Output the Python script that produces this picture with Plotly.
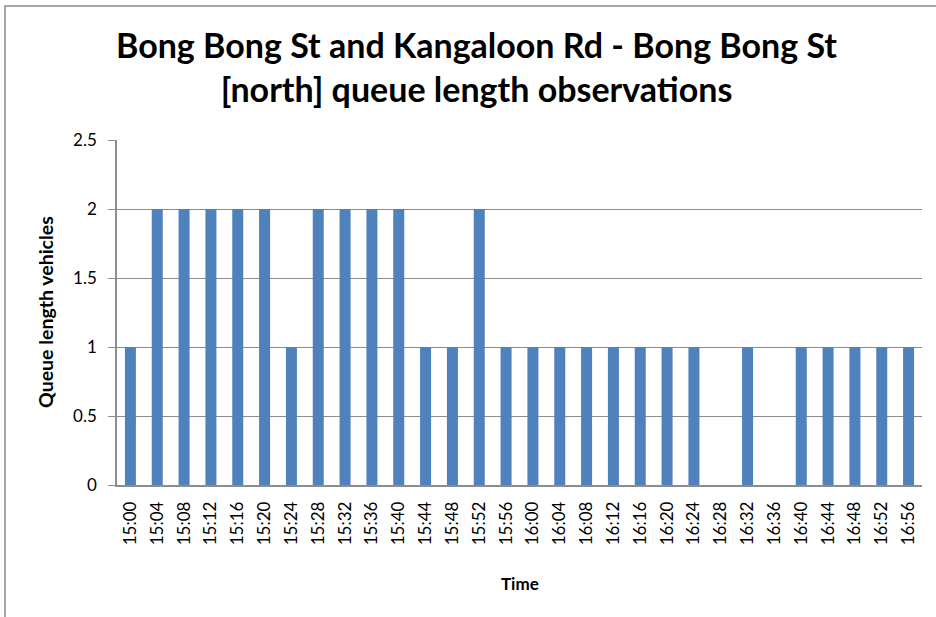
import plotly.graph_objects as go

times = ["15:00","15:04","15:08","15:12","15:16","15:20","15:24","15:28","15:32","15:36",
         "15:40","15:44","15:48","15:52","15:56","16:00","16:04","16:08","16:12","16:16",
         "16:20","16:24","16:28","16:32","16:36","16:40","16:44","16:48","16:52","16:56"]
queue = [1,2,2,2,2,2,1,2,2,2,
         2,1,1,2,1,1,1,1,1,1,
         1,1,0,1,0,1,1,1,1,1]
y_ticks = [0, 0.5, 1, 1.5, 2, 2.5]
y_tick_labels = ["0", "0.5", "1", "1.5", "2", "2.5"]

FONT = "Lato, 'Open Sans', sans-serif"
W, H = 936, 617
L, R, T, B = 117, 14, 140, 132
PW, PH = W - L - R, H - T - B

def px(x):
    return (x - L) / PW

def py(y):
    return (H - B - y) / PH

fig = go.Figure(go.Bar(x=times, y=queue, marker=dict(color="#4F81BD", line=dict(width=0))))

fig.update_layout(
    width=W, height=H,
    margin=dict(l=L, r=R, t=T, b=B, autoexpand=False),
    paper_bgcolor="white", plot_bgcolor="white",
    bargap=0.59,
    showlegend=False,
    font=dict(family=FONT, color="black"),
    annotations=[
        dict(text="<b>Bong Bong St and Kangaloon Rd - Bong Bong St<br>[north] queue length observations</b>",
             xref="paper", yref="paper", x=px(476), y=py(66), xanchor="center", yanchor="middle",
             showarrow=False, font=dict(size=34, family=FONT, color="black")),
        dict(text="<b>Queue length vehicles</b>", textangle=-90,
             xref="paper", yref="paper", x=px(45), y=py(312), xanchor="center", yanchor="middle",
             showarrow=False, font=dict(size=19.5, family=FONT, color="black")),
        dict(text="<b>Time</b>",
             xref="paper", yref="paper", x=px(520), y=py(583), xanchor="center", yanchor="middle",
             showarrow=False, font=dict(size=17, family=FONT, color="black")),
    ],
    shapes=[dict(type="rect", xref="paper", yref="paper",
                 x0=px(5), x1=px(W + 20), y0=py(H + 20), y1=py(6),
                 line=dict(color="#8C8C8C", width=1.5), layer="below")],
)

fig.update_xaxes(
    type="category", automargin=False,
    showline=True, linecolor="#8C8C8C", linewidth=1.5,
    tickangle=-90, tickfont=dict(size=17, family=FONT),
    ticks="", showgrid=False, ticklabelstandoff=8,
)
fig.update_yaxes(
    range=[0, 2.5], tickvals=y_ticks, ticktext=y_tick_labels, automargin=False,
    showline=True, linecolor="#8C8C8C", linewidth=1.5,
    ticks="outside", ticklen=7, tickcolor="#8C8C8C",
    showgrid=True, gridcolor="#8C8C8C", gridwidth=1,
    zeroline=False, ticklabelstandoff=8,
    tickfont=dict(size=17, family=FONT),
)

fig.write_html("out.html", config={"displayModeBar": False},
               post_script="document.body.style.margin='0';document.body.style.overflow='hidden';")
